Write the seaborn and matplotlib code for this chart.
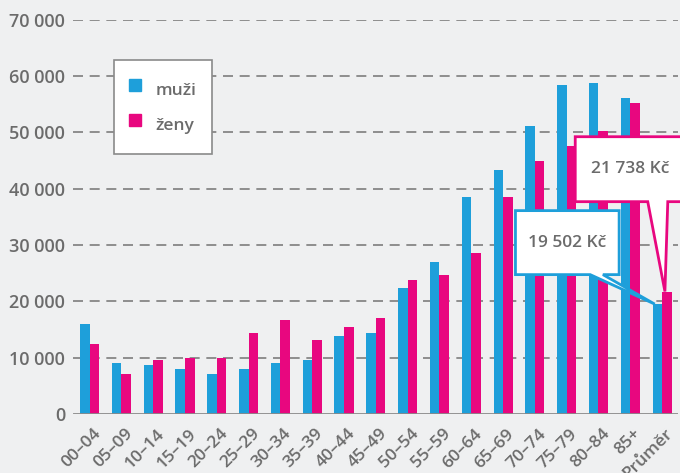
import pandas as pd
import numpy as np
import matplotlib
matplotlib.use("Agg")
import matplotlib.pyplot as plt
import matplotlib.transforms as mtransforms
import seaborn as sns
from matplotlib.patches import Polygon
from matplotlib.lines import Line2D

groups = ["00–04", "05–09", "10–14", "15–19", "20–24", "25–29", "30–34", "35–39",
          "40–44", "45–49", "50–54", "55–59", "60–64", "65–69", "70–74", "75–79",
          "80–84", "85+", "Průměr"]
muzi = [15900, 8950, 8750, 8050, 7000, 8050, 8950, 9650, 13750, 14450, 22450,
        27050, 38450, 43400, 51200, 58500, 58850, 56200, 19502]
zeny = [12500, 7150, 9650, 9850, 9850, 14450, 16750, 13200, 15500, 17100, 23850,
        24750, 28650, 38450, 44950, 47650, 50300, 55300, 21738]
series = ["muži", "ženy"]
colors = ["#1e9fda", "#e8077f"]
yticks = [0, 10000, 20000, 30000, 40000, 50000, 60000, 70000]

df = pd.DataFrame({
    "skupina": groups * 2,
    "hodnota": muzi + zeny,
    "pohlavi": [series[0]] * len(groups) + [series[1]] * len(groups),
})

sns.set_style("white")
plt.rcParams["font.family"] = ["Open Sans", "DejaVu Sans"]
gray = "#6b6b6b"
bg = "#eff0f1"

fig = plt.figure(figsize=(6.8, 4.73), dpi=100, facecolor=bg)
ax = fig.add_axes([0.107, 0.125, 0.890, 0.833])
ax.set_facecolor(bg)

sns.barplot(data=df, x="skupina", y="hodnota", hue="pohlavi", palette=colors,
            width=0.6, saturation=1, linewidth=0, ax=ax, zorder=3)

ax.set_ylim(0, 70000)
ax.set_xlim(-0.53, 18.5)
ax.set_yticks(yticks)
ax.set_yticklabels([f"{v:,}".replace(",", " ") for v in yticks])
for v in yticks[1:]:
    ax.axhline(v, color="#7d7d7d", lw=1.2, ls=(0, (6, 4)), zorder=1)
ax.axhline(0, color="#8a8a8a", lw=2, zorder=4)
for s in ax.spines.values():
    s.set_visible(False)
ax.set_xlabel("")
ax.set_ylabel("")
ax.tick_params(axis="both", length=0, labelcolor=gray)
ax.tick_params(axis="y", pad=5.5, labelsize=13)
for lab in ax.get_yticklabels():
    lab.set_fontweight("semibold")

# rotated category labels
ax.set_xticklabels([])
xtr = ax.get_xaxis_transform() + mtransforms.ScaledTranslation(
    3 / 100, -12 / 100, fig.dpi_scale_trans)
for i, g in enumerate(groups):
    ax.text(i, 0, g, transform=xtr, rotation=45, rotation_mode="anchor",
            ha="right", va="top", fontsize=12.5, color=gray, fontweight="semibold")

handles = [Line2D([], [], marker="s", ls="", color=c, markersize=8.6) for c in colors]
leg = ax.legend(handles, series, loc="upper left", bbox_to_anchor=(0.068, 0.898),
                frameon=True, fancybox=False, edgecolor="#8a8a8a", facecolor="white",
                framealpha=1, fontsize=12.5, handlelength=0.69, handleheight=2.15,
                handletextpad=0.86, labelspacing=0.4, borderpad=0.86,
                borderaxespad=0)
leg.get_frame().set_linewidth(1.2)
for t in leg.get_texts():
    t.set_color(gray)
    t.set_fontweight("semibold")

# callouts pointing at the average bars
idx = len(groups) - 1


def callout(x0, x1, y0, y1, b1, b2, tipx, tipy, color, text):
    pts = [(x0, y1), (x1, y1), (x1, y0), (b2, y0), (tipx, tipy), (b1, y0), (x0, y0)]
    ax.add_patch(Polygon(pts, closed=True, facecolor="white", edgecolor=color,
                         lw=2, zorder=6, clip_on=False, joinstyle="miter"))
    ax.text((x0 + x1) / 2, (y0 + y1) / 2, text, ha="center", va="center",
            fontsize=12.5, color=gray, fontweight="semibold", zorder=7)


callout(idx - 4.61, idx - 1.35, 24740, 36110, idx - 2.26, idx - 1.86,
        idx - 0.23, muzi[-1], colors[0], f"{muzi[-1]:,} Kč".replace(",", " "))
callout(idx - 2.73, idx + 0.75, 37700, 49240, idx - 0.45, idx + 0.18,
        idx + 0.09, zeny[-1], colors[1], f"{zeny[-1]:,} Kč".replace(",", " "))

fig.savefig("out.png", dpi=100, facecolor=bg)
